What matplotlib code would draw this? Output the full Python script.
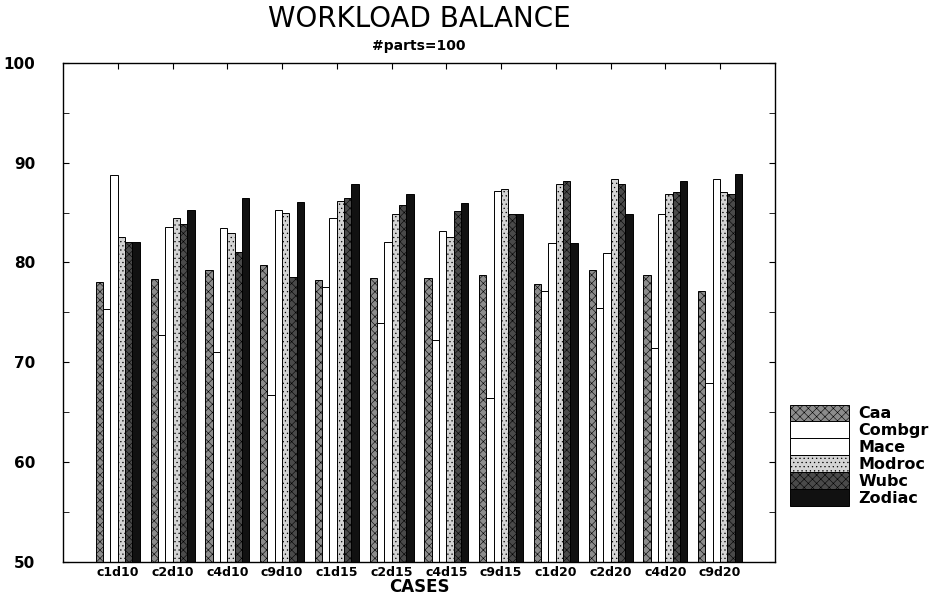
import numpy as np
import matplotlib
matplotlib.use('Agg')
import matplotlib.pyplot as plt

# 数据
cases = ['c1d10', 'c2d10', 'c4d10', 'c9d10', 'c1d15', 'c2d15',
         'c4d15', 'c9d15', 'c1d20', 'c2d20', 'c4d20', 'c9d20']
caa = [78.0, 78.3, 79.2, 79.7, 78.2, 78.4, 78.4, 78.7, 77.8, 79.2, 78.7, 77.1]
combgr = [75.3, 72.7, 71.0, 66.7, 77.5, 73.9, 72.2, 66.4, 77.1, 75.4, 71.4, 67.9]
mace = [88.8, 83.6, 83.5, 85.3, 84.5, 82.0, 83.2, 87.2, 81.9, 80.9, 84.9, 88.4]
modroc = [82.5, 84.5, 83.0, 85.0, 86.2, 84.9, 82.5, 87.4, 87.9, 88.4, 86.9, 87.1]
wubc = [82.0, 83.9, 81.0, 78.5, 86.5, 85.8, 85.2, 84.9, 88.2, 87.9, 87.1, 86.9]
zodiac = [82.0, 85.3, 86.5, 86.1, 87.9, 86.9, 86.0, 84.9, 81.9, 84.9, 88.2, 88.9]

series = [caa, combgr, mace, modroc, wubc, zodiac]
names = ['Caa', 'Combgr', 'Mace', 'Modroc', 'Wubc', 'Zodiac']
# 灰度填充 + 网点，模仿原图的打印效果
faces = ['#8c8c8c', '#ffffff', '#ffffff', '#d4d4d4', '#4a4a4a', '#111111']
hatches = ['xxxx', '', '', '....', 'xxxx', '']

plt.rcParams['font.family'] = ['DejaVu Sans']
plt.rcParams['font.weight'] = 'bold'
plt.rcParams['hatch.linewidth'] = 0.4

fig = plt.figure(figsize=(9.49, 5.95), dpi=100)
ax = fig.add_axes([0.0664, 0.0555, 0.750, 0.839])

x = np.arange(len(cases))
w = 0.134
for i, (vals, name) in enumerate(zip(series, names)):
    ax.bar(x + (i - 2.5) * w, vals, w, color=faces[i], hatch=hatches[i],
           edgecolor='black', linewidth=0.7, label=name, zorder=2)

ax.set_xlim(-1, 12)
ax.set_ylim(50, 100)
ax.set_yticks([50, 60, 70, 80, 90, 100])
ax.set_yticks(np.arange(55, 100, 10), minor=True)
ax.set_xticks(x)
ax.set_xticklabels(cases, fontsize=9)
ax.tick_params(axis='x', direction='in', length=4, top=True, bottom=False, pad=3)
ax.tick_params(axis='y', which='both', direction='in', length=4, right=True,
               labelsize=11, pad=20)
for s in ax.spines.values():
    s.set_linewidth(1.0)

ax.set_xlabel('CASES', fontsize=12, fontweight='bold', labelpad=-1)
fig.text(0.4415, 0.968, 'WORKLOAD BALANCE', ha='center', va='center',
         fontsize=20, fontweight='normal')
fig.text(0.4415, 0.922, '#parts=100', ha='center', va='center', fontsize=10)

fig.legend(loc='center left', bbox_to_anchor=(0.824, 0.235), frameon=False,
           fontsize=11.5, handlelength=3.7, handleheight=1.25, labelspacing=0.0,
           handletextpad=0.6, borderpad=0)

fig.savefig('out.png', dpi=100)
